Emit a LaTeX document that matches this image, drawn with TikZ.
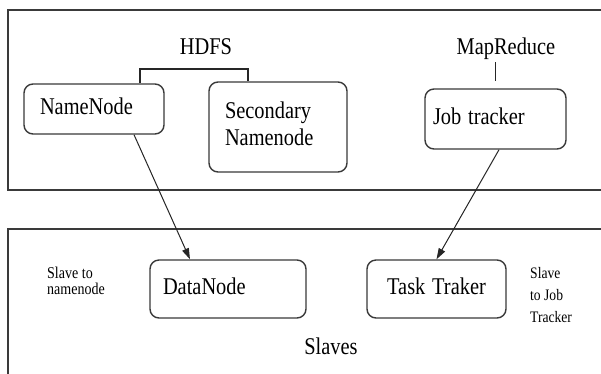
\documentclass[tikz,border=0pt]{standalone}
\usepackage{fontspec}
\setmainfont{Liberation Serif}
\usetikzlibrary{arrows.meta}
\definecolor{edge}{HTML}{3A3A3A}
\newcommand{\sqz}[1]{\scalebox{0.85}[1]{\begin{tabular}{@{}l@{}}#1\end{tabular}}}
\tikzset{
  outerbox/.style={draw=edge, line width=2pt},
  roundbox/.style={draw=edge, line width=1.4pt, rounded corners=9pt, inner ysep=0pt,
    font=\fontsize{24}{27}\selectfont, align=left},
  lbl/.style={font=\fontsize{24}{27}\selectfont, inner sep=0pt},
  smalllbl/.style={inner sep=0pt, align=left},
  link/.style={draw=black!85, line width=1pt},
  arr/.style={link, -{Triangle[length=11pt,width=7pt]}}
}
\begin{document}
\begin{tikzpicture}[x=1pt,y=-1pt]
\useasboundingbox (0,0) rectangle (601,373);
\fill[white] (0,0) rectangle (601,373);
% containers
\draw[outerbox] (8,10) rectangle (640,190);
\draw[outerbox] (8,229) rectangle (640,420);
% top row
\node[lbl, anchor=base] (hdfs) at (206,55) {\sqz{HDFS}};
\node[lbl, anchor=base] (mr) at (506,55) {\sqz{MapReduce}};
\node[roundbox, minimum width=140pt, minimum height=50pt, inner xsep=16pt, text width=108pt] (nn) at (94,109) {\sqz{NameNode}};
\node[roundbox, minimum width=138pt, minimum height=90pt, inner xsep=16pt, text width=106pt] (sn) at (278,127) {\sqz{Secondary\\Namenode}};
\node[roundbox, minimum width=141pt, minimum height=60pt, inner xsep=8pt, text width=125pt] (jt) at (495.5,119) {\sqz{Job tracker}};
% bottom row
\node[roundbox, minimum width=156pt, minimum height=58pt, inner xsep=13pt, text width=130pt] (dn) at (228,289) {\sqz{DataNode}};
\node[roundbox, minimum width=139pt, minimum height=58pt, inner xsep=6pt, text width=127pt, align=center] (tt) at (436.5,289) {\sqz{Task Traker}};
\node[smalllbl, anchor=west, font=\fontsize{16.5}{15}\selectfont] (s1) at (47,283) {\sqz{Slave to\\namenode}};
\node[smalllbl, anchor=west, font=\fontsize{16}{22}\selectfont] (s2) at (530,296) {\sqz{Slave\\to Job\\Tracker}};
\node[lbl] (slaves) at (331,349) {\sqz{Slaves}};
% connectors
\coordinate (br) at (194,69);
\draw[link, line width=1.2pt] ([xshift=46pt]nn.north) |- (br) -| ([xshift=-30pt]sn.north);
\draw[link, line width=1.2pt, shorten >=7pt] (mr.south -| jt.north) -- (jt.north);
\draw[arr] ([xshift=40pt]nn.south) -- ([xshift=-38pt]dn.north);
\draw[arr] ([xshift=3.5pt]jt.south) -- (tt.north);
\end{tikzpicture}
\end{document}
